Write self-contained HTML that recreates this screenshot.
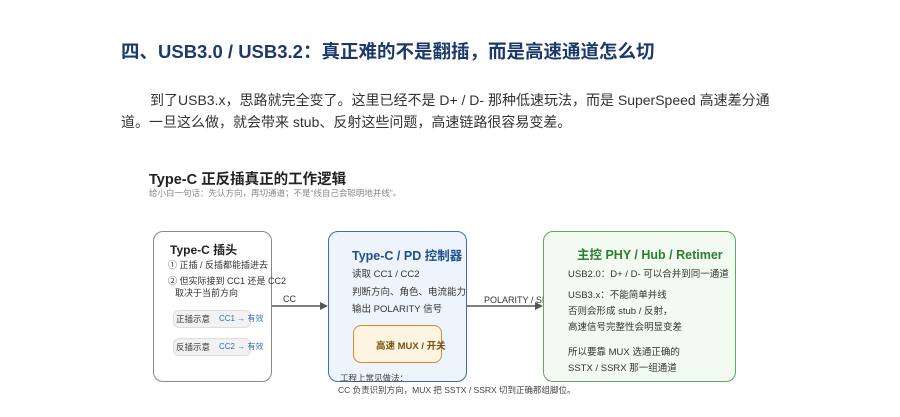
<!DOCTYPE html>
<html><head><meta charset="utf-8"><style>
body{margin:0;width:900px;height:417px;background:#fff;position:relative;overflow:hidden;font-family:"Liberation Sans","Noto Sans CJK SC",sans-serif}
.a{position:absolute;white-space:nowrap}
.box{position:absolute;border-radius:10px;box-sizing:border-box}
</style></head><body>
<div class="a" style="left:121px;top:38px;font-size:18.5px;font-weight:bold;color:#1b3a6b">四、USB3.0 / USB3.2：真正难的不是翻插，而是高速通道怎么切</div>
<div class="a" style="left:150px;top:90px;font-size:14px;color:#333">到了USB3.x，思路就完全变了。这里已经不是 D+ / D- 那种低速玩法，而是 SuperSpeed 高速差分通</div>
<div class="a" style="left:121px;top:112px;font-size:14px;color:#333">道。一旦这么做，就会带来 stub、反射这些问题，高速链路很容易变差。</div>

<div class="a" style="left:149px;top:168px;font-size:14.5px;font-weight:bold;color:#222">Type-C 正反插真正的工作逻辑</div>
<div class="a" style="left:149px;top:187px;font-size:8.5px;color:#888">给小白一句话：先认方向，再切通道；不是“线自己会聪明地并线”。</div>

<div class="box" style="left:153px;top:231px;width:119px;height:151px;border:1.5px solid #888"></div>
<div class="a" style="left:170px;top:241px;font-size:12px;font-weight:bold;color:#222">Type-C 插头</div>
<div class="a" style="left:168px;top:258px;font-size:9px;color:#333">① 正插 / 反插都能插进去</div>
<div class="a" style="left:168px;top:274px;font-size:9px;color:#333">② 但实际接到 CC1 还是 CC2</div>
<div class="a" style="left:175px;top:286px;font-size:9px;color:#333">取决于当前方向</div>
<div class="box" style="left:173px;top:310px;width:78px;height:18px;border-radius:6px;background:#f2f2f2;border:1px solid #ddd"></div>
<div class="a" style="left:176px;top:313px;font-size:8.5px;color:#333">正插示意</div>
<div class="a" style="left:219px;top:313px;font-size:8px;color:#2f6fb5">CC1 → 有效</div>
<div class="box" style="left:173px;top:338px;width:78px;height:18px;border-radius:6px;background:#f2f2f2;border:1px solid #ddd"></div>
<div class="a" style="left:176px;top:341px;font-size:8.5px;color:#333">反插示意</div>
<div class="a" style="left:219px;top:341px;font-size:8px;color:#2f6fb5">CC2 → 有效</div>

<svg class="a" style="left:0;top:0" width="900" height="417">
<line x1="272" y1="306" x2="322" y2="306" stroke="#555" stroke-width="1.5"/>
<polygon points="328,306 320,302 320,310" fill="#555"/>
<line x1="466" y1="306" x2="537" y2="306" stroke="#555" stroke-width="1.5"/>
<polygon points="543,306 535,302 535,310" fill="#555"/>
</svg>
<div class="a" style="left:283px;top:294px;font-size:9px;color:#333">CC</div>

<div class="box" style="left:328px;top:231px;width:139px;height:151px;border:1.5px solid #3a6db5;background:#eef4fc"></div>
<div class="a" style="left:352px;top:245px;font-size:12.5px;font-weight:bold;color:#1f4e8c">Type-C / PD 控制器</div>
<div class="a" style="left:352px;top:266px;font-size:9.5px;color:#333">读取 CC1 / CC2</div>
<div class="a" style="left:352px;top:284px;font-size:9.5px;color:#333">判断方向、角色、电流能力</div>
<div class="a" style="left:352px;top:301px;font-size:9.5px;color:#333">输出 POLARITY 信号</div>
<div class="box" style="left:353px;top:325px;width:89px;height:38px;border:1.5px solid #c8902a;background:#fdf4e2;border-radius:8px"></div>
<div class="a" style="left:376px;top:338px;font-size:9.5px;font-weight:bold;color:#7a5410">高速 MUX / 开关</div>
<div class="a" style="left:340px;top:372px;font-size:8.5px;color:#444">工程上常见做法：</div>
<div class="a" style="left:338px;top:384px;font-size:8.5px;color:#444">CC 负责识别方向，MUX 把 SSTX / SSRX 切到正确那组脚位。</div>

<div class="a" style="left:484px;top:295px;font-size:9px;color:#333">POLARITY / SEL</div>
<div class="box" style="left:543px;top:231px;width:193px;height:151px;border:1.5px solid #5aaa5a;background:#f3faf2"></div>
<div class="a" style="left:577px;top:244px;font-size:12.5px;font-weight:bold;color:#2e7d32">主控 PHY / Hub / Retimer</div>
<div class="a" style="left:568px;top:266px;font-size:9.5px;color:#333">USB2.0：D+ / D- 可以合并到同一通道</div>
<div class="a" style="left:568px;top:287px;font-size:9.5px;color:#333">USB3.x：不能简单并线</div>
<div class="a" style="left:568px;top:303px;font-size:9.5px;color:#333">否则会形成 stub / 反射，</div>
<div class="a" style="left:568px;top:319px;font-size:9.5px;color:#333">高速信号完整性会明显变差</div>
<div class="a" style="left:568px;top:344px;font-size:9.5px;color:#333">所以要靠 MUX 选通正确的</div>
<div class="a" style="left:568px;top:360px;font-size:9.5px;color:#333">SSTX / SSRX 那一组通道</div>
</body></html>
